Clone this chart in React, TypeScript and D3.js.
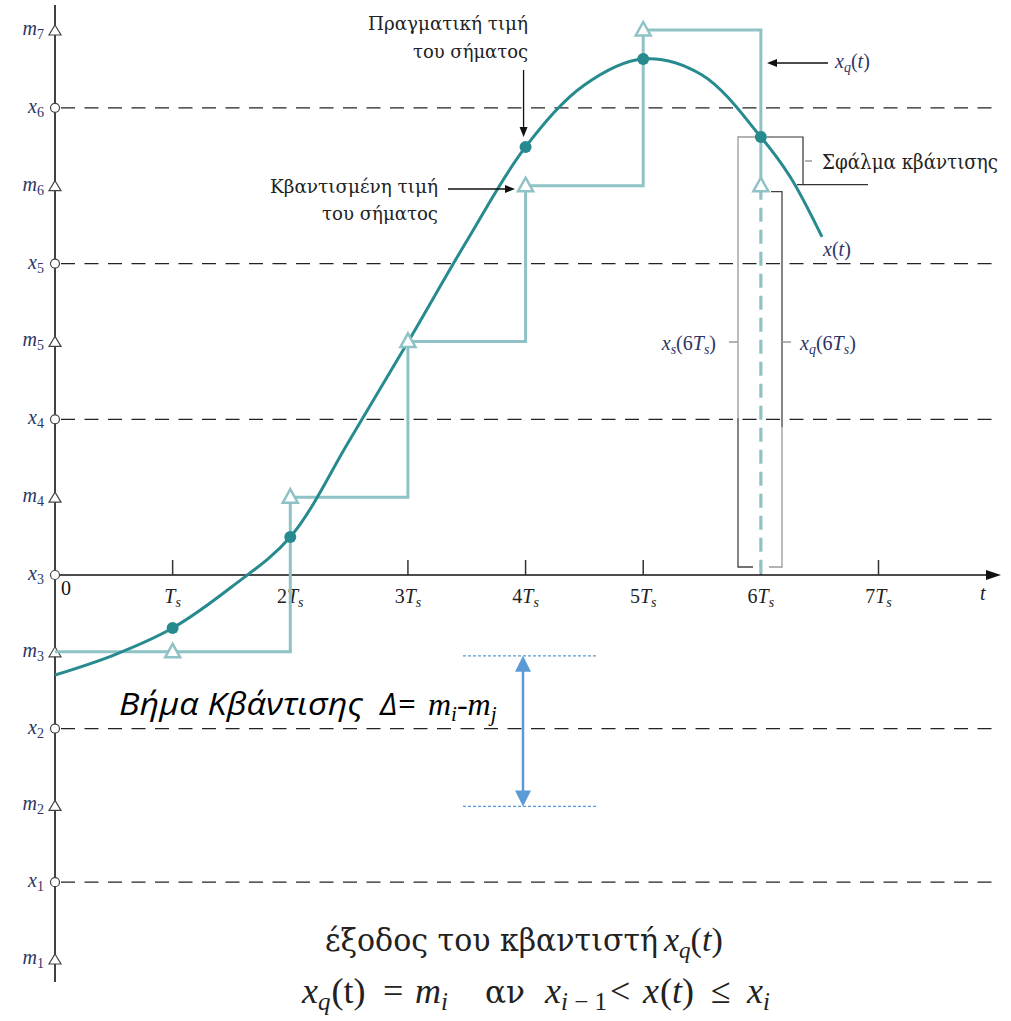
import React from 'react';
import * as d3 from 'd3';

const W = 1011;
const H = 1021;

// quantizer levels
const reconLevels = [1, 2, 3, 4, 5, 6, 7];           // m_i
const reconNames = ['1', '2', '3', '4', '5', '6', '7'];
const decisionLevels = [1.5, 2.5, 3.5, 4.5, 5.5, 6.5]; // x_i
const decisionNames = ['1', '2', '3', '4', '5', '6'];

// time ticks (multiples of Ts)
const tickT = [1, 2, 3, 4, 5, 6, 7];
const tickPrefix = ['', '2', '3', '4', '5', '6', '7'];

// analog signal x(t)
const curveT = [0, 0.5, 1, 1.5, 2, 2.5, 3, 3.5, 4, 4.5, 5, 5.5, 6, 6.25, 6.52];
const curveX = [2.849, 2.979, 3.155, 3.422, 3.744, 4.361, 4.996, 5.645, 6.249, 6.647, 6.814, 6.711, 6.313, 6.056, 5.671];

// samples
const sampleT = [1, 2, 3, 4, 5, 6];
const sampleX = [3.155, 3.744, 4.996, 6.249, 6.814, 6.313];
const sampleDot = [true, true, false, true, true, true];

// quantized output xq(t)
const quantT = [0, 1, 2, 3, 4, 5, 6];
const quantX = [3, 3, 4, 5, 6, 7, 6];

const xS = d3.scaleLinear().domain([0, 7]).range([55, 878.5]);
const yS = d3.scaleLinear().domain([1, 3.5, 7]).range([959, 575, 30]);

const TEAL = '#268a8f';
const LTEAL = '#8fc2c5';
const SERIF = '"Liberation Serif", "Times New Roman", serif';
const GSERIF = '"DejaVu Serif Condensed", "DejaVu Serif", serif';
const LABEL = '#2c3566';

const Arrow = ({ x1, y1, x2, y2, color = '#111', len = 10, wid = 4 }: any) => {
  const a = Math.atan2(y2 - y1, x2 - x1);
  const bx = x2 - len * Math.cos(a);
  const by = y2 - len * Math.sin(a);
  const px = -Math.sin(a) * wid;
  const py = Math.cos(a) * wid;
  return (
    <g>
      <line x1={x1} y1={y1} x2={bx} y2={by} stroke={color} strokeWidth={1.3} />
      <path d={`M${x2},${y2}L${bx + px},${by + py}L${bx - px},${by - py}Z`} fill={color} />
    </g>
  );
};

const GText = ({ x, y, w, size = 19, anchor = 'start', children }: any) => (
  <text x={x} y={y} textAnchor={anchor} fontFamily={GSERIF} fontSize={size} fill="#222" textLength={w} lengthAdjust="spacingAndGlyphs">
    {children}
  </text>
);

const F2 = 36; // bottom formula font size

export default function App() {
  const x0 = xS(0);
  const axisY = yS(3.5);
  const curvePath = d3
    .line<number>()
    .x((_, i) => xS(curveT[i]))
    .y((d) => yS(d))
    .curve(d3.curveCatmullRom.alpha(0.5))(curveX) as string;
  const stepPath = d3
    .line<number>()
    .x((_, i) => xS(quantT[i]))
    .y((d) => yS(d))
    .curve(d3.curveStepAfter)(quantX) as string;

  const lastQ = quantX[quantX.length - 1];
  const x6 = xS(6);
  const ySample6 = yS(sampleX[5]);
  const yQ6 = yS(lastQ);

  return (
    <svg width={W} height={H} style={{ position: 'absolute', left: 0, top: 0, background: '#fff' }}>
      {/* dashed decision lines */}
      {decisionLevels.map((v, i) =>
        v === 3.5 ? null : (
          <line key={'dl' + i} x1={x0 + 6} x2={992} y1={yS(v)} y2={yS(v)} stroke="#222" strokeWidth={1.3} strokeDasharray="14 9.5" />
        )
      )}

      {/* y axis */}
      <line x1={x0} x2={x0} y1={5} y2={982} stroke="#111" strokeWidth={1.6} />
      {/* x axis */}
      <line x1={x0} x2={990} y1={axisY} y2={axisY} stroke="#111" strokeWidth={1.6} />
      <path d={`M1001,${axisY}L986,${axisY - 5}L986,${axisY + 5}Z`} fill="#111" />
      {tickT.map((t, i) => (
        <line key={'tk' + i} x1={xS(t)} x2={xS(t)} y1={axisY} y2={axisY - 15} stroke="#333" strokeWidth={1.5} />
      ))}

      {/* y axis markers */}
      {decisionLevels.map((v, i) => (
        <circle key={'dc' + i} cx={x0} cy={yS(v)} r={4.5} fill="#fff" stroke="#444" strokeWidth={1.2} />
      ))}
      {reconLevels.map((v, i) => {
        const y = yS(v);
        return (
          <path key={'rt' + i} d={`M${x0},${y - 5}L${x0 + 6},${y + 5}L${x0 - 6},${y + 5}Z`} fill="#fff" stroke="#444" strokeWidth={1.2} />
        );
      })}

      {/* y labels */}
      {reconLevels.map((v, i) => (
        <text key={'rl' + i} x={44} y={yS(v) + 5} textAnchor="end" fontFamily={SERIF} fontSize={20} fill={LABEL}>
          <tspan fontStyle="italic">m</tspan>
          <tspan fontSize={14} dy={4}>{reconNames[i]}</tspan>
        </text>
      ))}
      {decisionLevels.map((v, i) => (
        <text key={'xl' + i} x={44} y={yS(v) + 5} textAnchor="end" fontFamily={SERIF} fontSize={20} fill={LABEL}>
          <tspan fontStyle="italic">x</tspan>
          <tspan fontSize={14} dy={4}>{decisionNames[i]}</tspan>
        </text>
      ))}

      {/* x tick labels */}
      <text x={61} y={595} fontFamily={SERIF} fontSize={20} fill="#111">0</text>
      {tickT.map((t, i) => (
        <text key={'tl' + i} x={xS(t)} y={603} textAnchor="middle" fontFamily={SERIF} fontSize={20} fill="#222">
          {tickPrefix[i]}
          <tspan fontStyle="italic">T</tspan>
          <tspan fontStyle="italic" fontSize={14} dy={4}>s</tspan>
        </text>
      ))}
      <text x={980} y={600} fontFamily={SERIF} fontStyle="italic" fontSize={20} fill="#222">t</text>

      {/* quantized step output */}
      <path d={stepPath} fill="none" stroke={LTEAL} strokeWidth={3} />
      <line x1={x6} x2={x6} y1={yQ6} y2={axisY} stroke={LTEAL} strokeWidth={3.2} strokeDasharray="14 8" />

      {/* analog curve */}
      <path d={curvePath} fill="none" stroke={TEAL} strokeWidth={3} />

      {/* quantized markers */}
      {quantT.slice(1).map((t, i) => {
        const x = xS(t);
        const y = yS(quantX[i + 1]);
        return (
          <path key={'qm' + i} d={`M${x},${y - 8}L${x + 7.5},${y + 5.5}L${x - 7.5},${y + 5.5}Z`} fill="#fff" stroke={LTEAL} strokeWidth={2.5} />
        );
      })}

      {/* sample dots */}
      {sampleT.map((t, i) =>
        sampleDot[i] ? <circle key={'sd' + i} cx={xS(t)} cy={yS(sampleX[i])} r={6} fill={TEAL} /> : null
      )}

      {/* annotations: actual value */}
      <GText x={368} y={30} w={160}>Πραγματική τιμή</GText>
      <GText x={413} y={58} w={115}>του σήματος</GText>
      <Arrow x1={xS(4) - 2} y1={70} x2={xS(4) - 2} y2={yS(sampleX[3]) - 10} />

      {/* annotations: quantized value */}
      <GText x={270} y={193} w={168}>Κβαντισμένη τιμή</GText>
      <GText x={322} y={220} w={116}>του σήματος</GText>
      <Arrow x1={448} y1={189} x2={515} y2={189} />

      {/* xq(t) label */}
      <Arrow x1={828} y1={63} x2={767} y2={63} />
      <text x={835} y={68} fontFamily={SERIF} fontSize={20} fill={LABEL}>
        <tspan fontStyle="italic">x</tspan>
        <tspan fontStyle="italic" fontSize={14} dy={4}>q</tspan>
        <tspan dy={-4}>(</tspan>
        <tspan fontStyle="italic">t</tspan>
        <tspan>)</tspan>
      </text>

      {/* x(t) label */}
      <text x={823} y={256} fontFamily={SERIF} fontSize={20} fill={LABEL}>
        <tspan fontStyle="italic">x</tspan>
        <tspan>(</tspan>
        <tspan fontStyle="italic">t</tspan>
        <tspan>)</tspan>
      </text>

      {/* quantization error bracket */}
      <polyline points={`767,${ySample6} 803,${ySample6} 803,${yQ6 - 1} 797,${yQ6 - 1}`} fill="none" stroke="#333" strokeWidth={1.2} />
      <line x1={803} x2={868} y1={yQ6 - 1} y2={yQ6 - 1} stroke="#333" strokeWidth={1.2} />
      <line x1={805} x2={812} y1={161} y2={161} stroke="#999" strokeWidth={1.5} />
      <GText x={822} y={169} w={176} size={20}>Σφάλμα κβάντισης</GText>

      {/* xs(6Ts) bracket */}
      <polyline points={`755,${ySample6} 738,${ySample6} 738,418`} fill="none" stroke="#9a9a9a" strokeWidth={1.3} />
      <polyline points={`738,418 738,567 753,567`} fill="none" stroke="#444" strokeWidth={1.3} />
      <line x1={729} x2={738} y1={342} y2={342} stroke="#999" strokeWidth={1.5} />
      <text x={716} y={350} textAnchor="end" fontFamily={SERIF} fontSize={20} fill={LABEL}>
        <tspan fontStyle="italic">x</tspan>
        <tspan fontStyle="italic" fontSize={14} dy={4}>s</tspan>
        <tspan dy={-4}>(6</tspan>
        <tspan fontStyle="italic">T</tspan>
        <tspan fontStyle="italic" fontSize={14} dy={4}>s</tspan>
        <tspan dy={-4}>)</tspan>
      </text>

      {/* xq(6Ts) bracket */}
      <polyline points={`771,${yQ6 + 6} 782,${yQ6 + 6} 782,427`} fill="none" stroke="#444" strokeWidth={1.3} />
      <polyline points={`782,427 782,567 769,567`} fill="none" stroke="#9a9a9a" strokeWidth={1.3} />
      <line x1={782} x2={791} y1={342} y2={342} stroke="#999" strokeWidth={1.5} />
      <text x={800} y={350} fontFamily={SERIF} fontSize={20} fill={LABEL}>
        <tspan fontStyle="italic">x</tspan>
        <tspan fontStyle="italic" fontSize={14} dy={4}>q</tspan>
        <tspan dy={-4}>(6</tspan>
        <tspan fontStyle="italic">T</tspan>
        <tspan fontStyle="italic" fontSize={14} dy={4}>s</tspan>
        <tspan dy={-4}>)</tspan>
      </text>

      {/* quantization step annotation */}
      <text x={119} y={715} fontFamily='"Open Sans", sans-serif' fontStyle="italic" fontSize={31} fill="#000" textLength={244} lengthAdjust="spacingAndGlyphs">Βήμα Κβάντισης</text>
      <text x={380} y={715} fontFamily='"Open Sans", sans-serif' fontStyle="italic" fontSize={31} fill="#000">Δ=</text>
      <text x={428} y={715} fontFamily={SERIF} fontStyle="italic" fontSize={32} fill="#000">
        m<tspan fontSize={21} dy={6}>i</tspan><tspan fontStyle="normal" dy={-6}>-</tspan>m<tspan fontSize={21} dy={6}>j</tspan>
      </text>
      <line x1={463} x2={598} y1={yS(3) + 4} y2={yS(3) + 4} stroke="#5b9bd5" strokeWidth={1.2} strokeDasharray="3 2" />
      <line x1={463} x2={598} y1={yS(2) + 1} y2={yS(2) + 1} stroke="#5b9bd5" strokeWidth={1.2} strokeDasharray="3 2" />
      <line x1={523} x2={523} y1={yS(3) + 18} y2={yS(2) - 13} stroke="#5b9bd5" strokeWidth={2.5} />
      <path d={`M523,${yS(3) + 4}L531,${yS(3) + 20}L515,${yS(3) + 20}Z`} fill="#5b9bd5" />
      <path d={`M523,${yS(2) + 1}L531,${yS(2) - 15}L515,${yS(2) - 15}Z`} fill="#5b9bd5" />

      {/* bottom formula, line 1 */}
      <GText x={325} y={951} w={333} size={31}>έξοδος του κβαντιστή</GText>
      <text x={664} y={951} fontFamily={SERIF} fontSize={34} fill="#222">
        <tspan fontStyle="italic">x</tspan>
        <tspan fontStyle="italic" fontSize={23} dy={7}>q</tspan>
        <tspan dy={-7}>(</tspan>
        <tspan fontStyle="italic">t</tspan>
        <tspan>)</tspan>
      </text>

      {/* bottom formula, line 2 */}
      <text x={302} y={1003} fontFamily={SERIF} fontSize={F2} fill="#222">
        <tspan fontStyle="italic">x</tspan>
        <tspan fontStyle="italic" fontSize={25} dy={7}>q</tspan>
        <tspan dy={-7} dx={1}>(t)</tspan>
      </text>
      <text x={383} y={1003} fontFamily={SERIF} fontSize={F2} fill="#222">=</text>
      <text x={415} y={1003} fontFamily={SERIF} fontSize={F2} fill="#222">
        <tspan fontStyle="italic">m</tspan>
        <tspan fontStyle="italic" fontSize={25} dy={7}>i</tspan>
      </text>
      <GText x={485} y={1003} w={40} size={32}>αν</GText>
      <text x={545} y={1003} fontFamily={SERIF} fontSize={F2} fill="#222">
        <tspan fontStyle="italic">x</tspan>
        <tspan fontStyle="italic" fontSize={25} dy={7}>i</tspan>
        <tspan fontSize={25}> − 1</tspan>
      </text>
      <text x={610} y={1003} fontFamily={SERIF} fontSize={F2} fill="#222">&lt;</text>
      <text x={643} y={1003} fontFamily={SERIF} fontSize={F2} fill="#222">
        <tspan fontStyle="italic">x</tspan>
        <tspan dx={1}>(</tspan>
        <tspan fontStyle="italic">t</tspan>
        <tspan>)</tspan>
      </text>
      <text x={711} y={1003} fontFamily={SERIF} fontSize={F2} fill="#222">≤</text>
      <text x={747} y={1003} fontFamily={SERIF} fontSize={F2} fill="#222">
        <tspan fontStyle="italic">x</tspan>
        <tspan fontStyle="italic" fontSize={25} dy={7}>i</tspan>
      </text>
    </svg>
  );
}
